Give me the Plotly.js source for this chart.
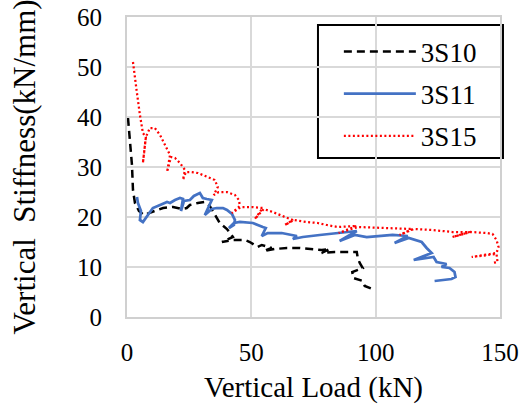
<!DOCTYPE html>
<html>
<head>
<meta charset="utf-8">
<script src="https://cdn.plot.ly/plotly-3.0.1.min.js"></script>
<style>html,body{margin:0;padding:0;background:#fff;}#chart{width:521px;height:410px;}</style>
</head>
<body>
<div id="chart"></div>
<script>
// 3S10 (black dashed)
const s10Load = [0.4, 1.2, 2.0, 2.4, 3.2, 4.8, 6.8, 10.0, 14.5, 18.5, 22.1, 24.0, 25.3, 28.5, 31.3, 33.3, 35.3, 37.3, 40.2, 42.6, 38.2, 42.6, 47.4, 49.4, 52.6, 54.2, 58.2, 55.0, 59.4, 64.3, 69.5, 74.7, 78.3, 81.5, 78.3, 83.5, 88.4, 92.4, 92.8, 93.6, 94.8, 90.6, 91.0, 94.8, 95.6, 99.6];
const s10Stiff = [39.8, 35.4, 30.4, 25.4, 22.8, 21.2, 20.4, 21.0, 21.8, 22.0, 21.6, 21.8, 22.4, 22.8, 23.0, 22.2, 20.4, 18.8, 17.6, 16.0, 15.0, 15.4, 15.4, 15.0, 14.0, 14.4, 13.8, 13.2, 13.6, 13.8, 13.8, 13.6, 13.4, 13.6, 12.8, 13.0, 13.0, 13.0, 11.8, 10.8, 9.8, 9.0, 7.8, 7.2, 6.2, 5.4];

// 3S11 (blue solid)
const s11Load = [4.0, 4.4, 5.6, 5.2, 6.4, 8.4, 10.4, 13.3, 16.1, 17.3, 19.3, 21.3, 22.5, 21.7, 22.9, 25.3, 26.9, 29.3, 30.5, 32.1, 34.1, 31.3, 34.1, 36.1, 38.6, 40.2, 42.2, 43.4, 43.0, 41.0, 43.0, 45.4, 50.6, 54.6, 55.8, 54.2, 56.6, 62.2, 68.3, 66.7, 70.7, 77.5, 85.5, 92.4, 85.5, 91.6, 96.4, 101.6, 106.8, 112.9, 107.6, 113.3, 116.5, 118.5, 120.5, 122.5, 115.3, 123.3, 124.5, 126.9, 128.5, 126.5, 129.7, 131.7, 132.1, 130.5, 123.7];
const s11Stiff = [24.0, 22.8, 21.2, 19.4, 19.0, 20.4, 21.8, 22.4, 23.0, 22.8, 23.4, 23.8, 23.6, 21.2, 23.2, 23.4, 24.2, 24.8, 23.8, 23.6, 23.4, 20.4, 21.6, 21.8, 21.8, 21.4, 20.6, 19.4, 18.4, 17.8, 18.8, 19.0, 18.8, 18.0, 17.8, 16.2, 16.8, 16.8, 16.2, 15.6, 16.0, 16.4, 16.8, 17.2, 15.2, 16.4, 16.0, 16.2, 16.4, 16.2, 14.8, 15.8, 15.4, 15.0, 13.8, 12.8, 11.4, 12.0, 11.0, 10.8, 10.6, 10.0, 9.8, 9.0, 8.0, 7.6, 7.2];

// 3S15 (red dotted)
const s15Load = [2.4, 3.2, 4.0, 5.2, 6.4, 7.6, 6.4, 7.6, 9.2, 11.2, 13.3, 15.3, 17.3, 16.1, 17.7, 19.3, 21.3, 23.3, 22.5, 23.7, 25.3, 28.5, 32.1, 35.3, 36.5, 34.9, 36.9, 40.2, 43.4, 45.0, 45.4, 42.2, 45.8, 50.6, 54.6, 51.4, 55.0, 58.6, 63.5, 66.7, 63.5, 67.1, 72.3, 76.7, 80.3, 84.7, 92.4, 85.1, 92.8, 102.8, 109.6, 114.9, 109.6, 115.3, 122.9, 130.9, 137.8, 130.9, 138.2, 144.6, 147.0, 148.6, 149.4, 148.6, 138.6, 148.6, 149.0, 147.0];
const s15Stiff = [51.0, 47.4, 44.8, 40.4, 36.8, 36.0, 30.8, 36.0, 37.8, 37.8, 36.4, 34.4, 32.4, 29.0, 32.0, 31.8, 30.8, 29.4, 27.4, 29.0, 29.0, 28.8, 28.0, 27.4, 26.0, 24.4, 25.0, 25.0, 24.4, 23.4, 22.2, 20.8, 22.0, 22.0, 21.8, 19.6, 21.6, 21.0, 20.0, 19.4, 18.4, 19.4, 19.0, 18.8, 18.4, 18.0, 18.2, 16.8, 18.0, 17.8, 17.6, 17.6, 16.4, 17.6, 17.4, 17.0, 17.0, 16.0, 17.0, 16.8, 16.6, 15.4, 14.0, 12.8, 12.0, 12.6, 11.0, 10.8];

const seriesNames = ['3S10', '3S11', '3S15'];
const xTicks = [0, 50, 100, 150];
const yTicks = [0, 10, 20, 30, 40, 50, 60];

const serif = "'Liberation Serif', 'Times New Roman', serif";

const traces = [
  {x: s10Load, y: s10Stiff, name: seriesNames[0], mode: 'lines', legendgroup: 'a',
   line: {color: '#000000', width: 2.5, dash: '8px,5px'}},
  {x: s11Load, y: s11Stiff, name: seriesNames[1], mode: 'lines', legendgroup: 'b',
   line: {color: '#4472C4', width: 2.75}},
  {x: s15Load, y: s15Stiff, name: seriesNames[2], mode: 'lines', legendgroup: 'c',
   line: {color: '#FF0000', width: 2.25, dash: '2px,2.5px'}}
];

const axisCommon = {
  showgrid: true, gridcolor: '#d9d9d9', gridwidth: 2,
  showline: true, mirror: true, linecolor: '#d0d0d0', linewidth: 2,
  zeroline: false, ticks: 'outside', tickcolor: 'rgba(0,0,0,0)',
  tickfont: {family: serif, size: 25, color: '#000'}
};

const layout = {
  width: 521, height: 410,
  margin: {l: 127, r: 21, t: 17, b: 93},
  paper_bgcolor: '#fff', plot_bgcolor: '#fff',
  font: {family: serif, color: '#000'},
  showlegend: true,
  xaxis: Object.assign({}, axisCommon, {
    range: [0, 150], tickvals: xTicks, ticktext: xTicks.map(String), ticklen: 12,
    title: {text: 'Vertical Load (kN)', font: {family: serif, size: 29, color: '#000'}, standoff: 12}
  }),
  yaxis: Object.assign({}, axisCommon, {
    range: [0, 60], tickvals: yTicks, ticktext: yTicks.map(String), ticklen: 18,
    title: {text: 'Vertical\u00a0 Stiffness(kN/mm)\u00a0\u00a0\u00a0\u00a0\u00a0', font: {family: serif, size: 31, color: '#000'}, standoff: 32}
  }),
  shapes: [
    {type: 'rect', xref: 'paper', yref: 'paper', layer: 'between',
     x0: 0.512, x1: 1.008, y0: 0.53, y1: 0.973,
     fillcolor: '#ffffff', line: {color: '#000000', width: 2}}
  ],
  legend: {
    x: 0.568, y: 0.965, xanchor: 'left', yanchor: 'top',
    bgcolor: 'rgba(0,0,0,0)', borderwidth: 0,
    font: {family: serif, size: 27, color: '#000'},
    tracegroupgap: 4, itemwidth: 72
  }
};

Plotly.newPlot('chart', traces, layout, {displayModeBar: false, staticPlot: true});
</script>
</body>
</html>
